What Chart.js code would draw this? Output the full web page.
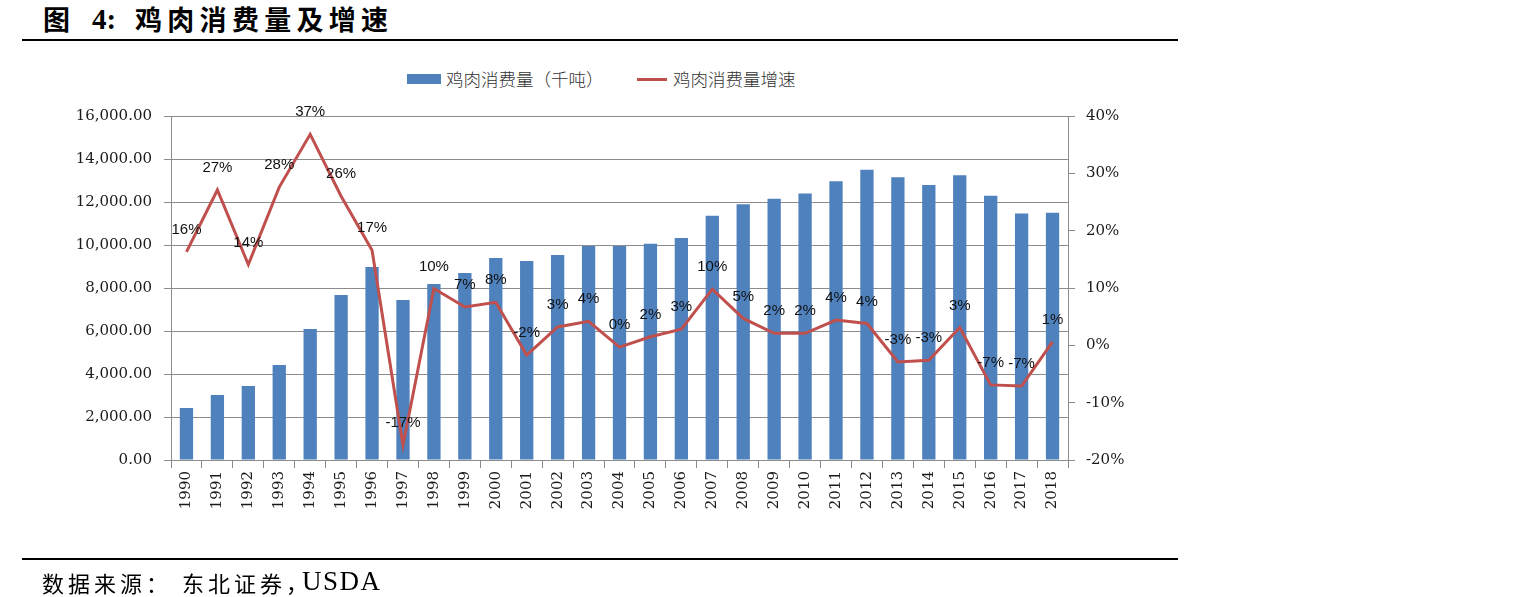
<!DOCTYPE html>
<html>
<head>
<meta charset="utf-8">
<script src="https://cdn.jsdelivr.net/npm/chart.js@4.4.1/dist/chart.umd.min.js"></script>
<style>
  html, body { margin: 0; padding: 0; background: #fff; }
  body { width: 1516px; height: 597px; position: relative; overflow: hidden; }
  #wrap { position: absolute; left: 0; top: 0; width: 1516px; height: 597px; }
  .t { position: absolute; white-space: nowrap; color: #000; }
  .title { top: 4px; line-height: 30px; font-family: "Noto Sans CJK SC", sans-serif; font-weight: bold; font-size: 27px; }
  .rule { position: absolute; left: 22px; width: 1156px; height: 2px; background: #000; }
  .legend {
    position: absolute; top: 66px; left: 407px; height: 22px;
    font-family: "Noto Sans CJK SC", sans-serif; font-weight: 300; font-size: 17.5px; color: #333; white-space: nowrap;
  }
  .legend span { position: absolute; top: 0; }
  .source { top: 569px; line-height: 26px; font-family: "Noto Sans CJK SC", sans-serif; font-size: 22px; letter-spacing: 4px; }
</style>
</head>
<body>
<div class="t title" style="left:43px;">图</div>
<div class="t title" style="left:92px; font-family:'Liberation Serif',serif; font-size:29px;">4:</div>
<div class="t title" style="left:135px; letter-spacing:5.3px;">鸡肉消费量及增速</div>
<div class="rule" style="top:39px"></div>
<div class="legend">
  <span style="left:0; top:8px; width:34px; height:10px; background:#4F81BD;"></span>
  <span style="left:39px;">鸡肉消费量（千吨）</span>
  <span style="left:230px; top:12px; width:30px; height:3px; background:#C0504D;"></span>
  <span style="left:266px;">鸡肉消费量增速</span>
</div>
<div id="wrap"><canvas id="chart" width="1516" height="597"></canvas></div>
<div class="rule" style="top:558px"></div>
<div class="t source" style="left:42px;">数据来源：</div>
<div class="t source" style="left:182px;">东北证券，</div>
<div class="t source" style="left:302px; top:568px; font-family:'Liberation Serif',serif; font-size:27px; letter-spacing:1.5px;">USDA</div>

<script>
// Chart data
const years = ['1990', '1991', '1992', '1993', '1994', '1995', '1996', '1997', '1998', '1999',
               '2000', '2001', '2002', '2003', '2004', '2005', '2006', '2007', '2008', '2009',
               '2010', '2011', '2012', '2013', '2014', '2015', '2016', '2017', '2018'];

// 鸡肉消费量（千吨）
const consumption = [2420, 3020, 3440, 4420, 6090, 7670, 8980, 7440, 8190, 8700,
                     9400, 9260, 9530, 9950, 9950, 10060, 10330, 11360, 11900, 12150,
                     12400, 12960, 13500, 13150, 12790, 13250, 12290, 11460, 11500];

// 鸡肉消费量增速 (%)
const growth = [16.3, 27.1, 14.1, 27.6, 36.8, 26.0, 16.6, -17.4, 9.9, 6.7,
                7.5, -1.7, 3.2, 4.2, -0.3, 1.5, 2.8, 9.8, 4.7, 2.1,
                2.1, 4.4, 3.8, -2.9, -2.6, 3.1, -6.9, -7.1, 0.6];

const leftTicks = [0, 2000, 4000, 6000, 8000, 10000, 12000, 14000, 16000];
const rightTicks = [-20, -10, 0, 10, 20, 30, 40];

const GRID = '#8c8c8c';
const tickFont = { family: 'DejaVu Serif', size: 15 };

// draws the % labels above the growth line
const lineLabels = {
    id: 'lineLabels',
    afterDatasetsDraw(chart) {
        const meta = chart.getDatasetMeta(1);
        const c = chart.ctx;
        c.save();
        c.font = '15px "Liberation Sans"';
        c.fillStyle = '#111';
        c.textAlign = 'center';
        c.textBaseline = 'middle';
        meta.data.forEach((pt, i) => {
            c.fillText(Math.round(growth[i]) + '%', pt.x, pt.y - 22);
        });
        c.restore();
    }
};

const ctx = document.getElementById('chart');
const chart = new Chart(ctx.getContext('2d'), {
    type: 'bar',
    data: {
        labels: years,
        datasets: [
            {
                label: '鸡肉消费量（千吨）',
                data: consumption,
                backgroundColor: '#4F81BD',
                barPercentage: 0.43,
                categoryPercentage: 1,
                yAxisID: 'y',
                order: 1
            },
            {
                type: 'line',
                label: '鸡肉消费量增速',
                data: growth,
                borderColor: '#C0504D',
                borderWidth: 3,
                pointRadius: 0,
                tension: 0,
                yAxisID: 'y2',
                order: 0
            }
        ]
    },
    options: {
        responsive: false,
        animation: false,
        layout: {
            padding: { left: 0, top: 116, right: 386, bottom: 77 }
        },
        plugins: {
            legend: { display: false },
            tooltip: { enabled: false }
        },
        scales: {
            x: {
                grid: {
                    offset: true,
                    drawOnChartArea: false,
                    tickLength: 8,
                    color: GRID
                },
                border: { color: GRID },
                ticks: {
                    minRotation: 90,
                    maxRotation: 90,
                    autoSkip: false,
                    padding: 3,
                    color: '#1a1a1a',
                    font: tickFont
                },
                afterFit(scale) { scale.height = 60; }
            },
            y: {
                position: 'left',
                min: 0,
                max: 16000,
                afterBuildTicks(scale) { scale.ticks = leftTicks.map(v => ({ value: v })); },
                grid: { color: GRID, tickLength: 7 },
                border: { color: GRID },
                ticks: {
                    padding: 12,
                    color: '#1a1a1a',
                    font: tickFont,
                    callback: v => v.toLocaleString('en-US', { minimumFractionDigits: 2, maximumFractionDigits: 2 })
                },
                afterFit(scale) { scale.width = 171; }
            },
            y2: {
                position: 'right',
                min: -20,
                max: 40,
                afterBuildTicks(scale) { scale.ticks = rightTicks.map(v => ({ value: v })); },
                grid: { drawOnChartArea: false, color: GRID, tickLength: 7 },
                border: { color: GRID },
                ticks: {
                    padding: 11,
                    color: '#1a1a1a',
                    font: tickFont,
                    callback: v => v + '%'
                },
                afterFit(scale) { scale.width = 62; }
            }
        }
    },
    plugins: [lineLabels]
});
</script>
</body>
</html>
